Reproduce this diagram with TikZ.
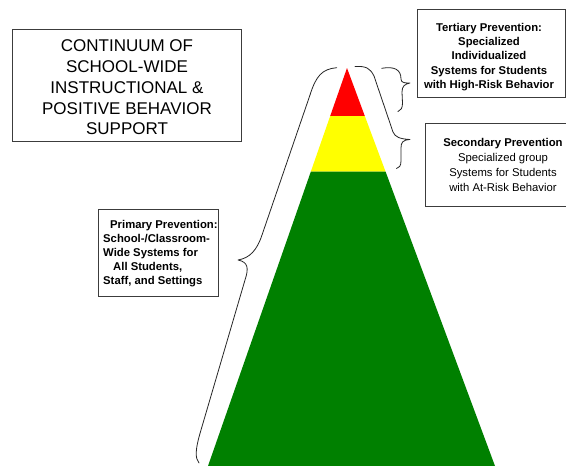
\documentclass[tikz,border=0pt]{standalone}
\usepackage{fontspec}
\setmainfont{Liberation Sans}
\definecolor{pgreen}{RGB}{0,128,0}
\definecolor{pred}{RGB}{255,0,0}
\definecolor{pyellow}{RGB}{255,255,0}
\definecolor{boxline}{RGB}{60,60,60}
\tikzset{
  framebox/.style={draw=boxline, line width=0.9pt, fill=white},
  brace/.style={draw=black!85, line width=0.8pt, line cap=round, line join=round},
  titletext/.style={align=center, inner sep=0pt, font=\fontsize{17}{20.8}\selectfont},
  labeltext/.style={inner sep=0pt, font=\fontsize{11.3}{14.4}\selectfont},
}
\begin{document}
\begin{tikzpicture}[x=1pt,y=-1pt]
\useasboundingbox[fill=white] (0,0) rectangle (566,466);
% pyramid
\coordinate (apex) at (347,68);
\coordinate (rl) at (330.2,116);
\coordinate (rr) at (364.8,116);
\coordinate (yl) at (310.8,171.7);
\coordinate (yr) at (385.6,171.7);
\coordinate (bl) at (208,466);
\coordinate (br) at (495,466);
\fill[pred] (apex) -- (rr) -- (rl) -- cycle;
\fill[pyellow] (rl) -- (rr) -- (yr) -- (yl) -- cycle;
\fill[pgreen] (yl) -- (yr) -- (br) -- (bl) -- cycle;
% boxes
\draw[framebox] (12,29) rectangle (241,141);
\node[titletext] (title) at (127,87.5) {CONTINUUM OF\\SCHOOL-WIDE\\INSTRUCTIONAL \&\\POSITIVE BEHAVIOR\\SUPPORT};
\draw[framebox] (417,9) rectangle (565,97);
\node[labeltext, align=center, font=\fontsize{11.3}{14.3}\selectfont\bfseries] (tert) at (489,57)
  {Tertiary Prevention:\\Specialized\\Individualized\\Systems for Students\\with High-Risk Behavior};
\draw[framebox] (425,123) rectangle (572,206);
\node[labeltext, align=center, font=\fontsize{11.3}{14.7}\selectfont] (sec) at (503,165)
  {\textbf{Secondary Prevention}\\Specialized group\\Systems for Students\\with At-Risk Behavior};
\draw[framebox] (98,209) rectangle (218,296);
\node[labeltext, align=left, anchor=west, font=\fontsize{11.3}{14}\selectfont\bfseries] (prim) at (103,253.5)
  {\hspace*{7pt}Primary Prevention:\\School-/Classroom-\\Wide Systems for\\\hspace*{10pt}All Students,\\Staff, and Settings};
% braces
\draw[brace] (336.7,67.7) .. controls (322,69) and (316,76) .. (310,95)
  -- (262,235) .. controls (257,250) and (250,258) .. (238,260)
  .. controls (248,262) and (249,268) .. (245,280)
  -- (201,430) .. controls (195,450) and (195,458) .. (199,463);
\draw[brace] (381.7,68.3) .. controls (395,66) and (401,70) .. (401,79)
  .. controls (401,83) and (405,83) .. (410,83)
  .. controls (405,84) and (402,86) .. (402,92)
  -- (402.5,103) .. controls (402.5,108) and (401,110.5) .. (398,111.5);
\draw[brace] (355,66.5) .. controls (366,66) and (370,68) .. (374,76)
  -- (393,132) .. controls (395,137) and (400,139) .. (410,139.5)
  .. controls (403,140) and (401,142) .. (401,148)
  -- (401,161) .. controls (401,166) and (399,168) .. (396.5,168.5);
\end{tikzpicture}
\end{document}
